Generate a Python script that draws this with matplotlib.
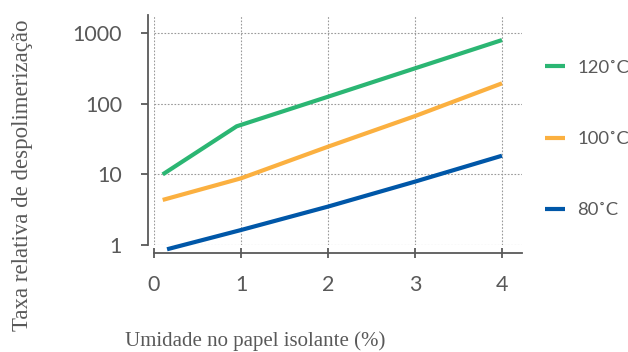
import matplotlib
matplotlib.use("Agg")
import matplotlib.pyplot as plt
from matplotlib.ticker import FixedLocator, NullLocator, FixedFormatter

# Moisture content (%) and relative depolymerisation rate per temperature
x_120 = [0.1, 0.95, 2, 3, 4]
y_120 = [10, 48, 126, 318, 800]

x_100 = [0.1, 1, 2, 3, 4]
y_100 = [4.35, 8.8, 24.7, 67, 195]

x_80 = [0.15, 1, 2, 3, 4]
y_80 = [0.87, 1.63, 3.5, 7.9, 18.4]

series = [
    ("120˚C", x_120, y_120, "#2bb673"),
    ("100˚C", x_100, y_100, "#fbb040"),
    ("80˚C", x_80, y_80, "#0057a8"),
]

xticks = [0, 1, 2, 3, 4]
xtick_labels = ["0", "1", "2", "3", "4"]
yticks = [1, 10, 100, 1000]
ytick_labels = ["1", "10", "100", "1000"]

axis_gray = "#595959"
sans = ["Lato", "DejaVu Sans"]
serif = ["Liberation Serif", "DejaVu Serif"]
plt.rcParams["font.family"] = sans

fig = plt.figure(figsize=(6.28, 3.52), dpi=100)
ax = fig.add_axes([154 / 628, 1 - 245 / 352, (522 - 154) / 628, (245 - 15) / 352])

for label, xs, ys, color in series:
    ax.plot(xs, ys, color=color, lw=3.0, solid_capstyle="butt", label=label,
            clip_on=False, zorder=3)

ax.set_yscale("log")
ax.set_xlim(0, 4.23)
ax.set_ylim(1, 1811)

ax.yaxis.set_major_locator(FixedLocator(yticks))
ax.yaxis.set_major_formatter(FixedFormatter(ytick_labels))
ax.yaxis.set_minor_locator(NullLocator())
ax.xaxis.set_major_locator(FixedLocator(xticks))
ax.xaxis.set_major_formatter(FixedFormatter(xtick_labels))

ax.grid(True, which="major", linestyle=(0, (1.5, 1.5)), color="#9a9a9a", lw=0.8)
ax.set_axisbelow(True)

for s in ("top", "right"):
    ax.spines[s].set_visible(False)
ax.spines["left"].set_position(("outward", 4))
ax.spines["bottom"].set_position(("outward", 6))
for s in ("left", "bottom"):
    ax.spines[s].set_color(axis_gray)
    ax.spines[s].set_linewidth(1.3)
ax.spines["left"].set_bounds(1, 1811)

ax.tick_params(axis="y", direction="out", length=5, width=1.3, color=axis_gray,
               pad=14, labelsize=15.5, labelcolor=axis_gray)
ax.tick_params(axis="x", direction="inout", length=7.2, width=1.3, color=axis_gray,
               pad=12, labelsize=15.5, labelcolor=axis_gray)

ax.set_xlabel("Umidade no papel isolante (%)", fontfamily=serif, fontsize=15,
              color=axis_gray, ha="left", va="top")
ax.xaxis.set_label_coords(-0.079, -0.375)
ax.set_ylabel("Taxa relativa de despolimerização", fontfamily=serif, fontsize=16.5,
              color=axis_gray)
ax.yaxis.set_label_coords(-0.33, 0.304)

leg = ax.legend(loc="center left", bbox_to_anchor=((545 - 154) / 368, (245 - 139) / 230),
                frameon=False, borderpad=0, borderaxespad=0,
                handlelength=1.1, handletextpad=0.65, labelspacing=3.0,
                prop={"family": sans, "size": 13.3})
for t in leg.get_texts():
    t.set_color(axis_gray)

fig.savefig("out.png", dpi=100)
